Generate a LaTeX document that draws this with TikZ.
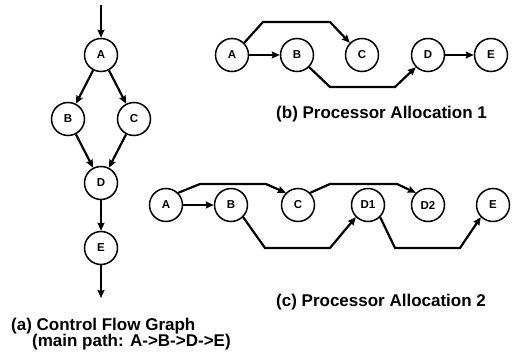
\documentclass[tikz,border=0pt]{standalone}
\usepackage{fontspec}
\setmainfont{Liberation Sans}
\usepackage{tikz}
\usetikzlibrary{arrows.meta}
\tikzset{
  task/.style={circle, draw, line width=1.5pt, minimum size=33pt, inner sep=0pt,
    font=\fontsize{11.5}{11.5}\selectfont\bfseries},
  flow/.style={line width=2.2pt, -{Stealth[length=8pt,width=7pt,inset=1pt]}},
  capt/.style={anchor=base west, inner sep=0pt, font=\fontsize{17}{15}\selectfont\bfseries},
  >=Stealth
}

\begin{document}
\begin{tikzpicture}[x=1pt, y=-1pt]
  \useasboundingbox (0,0) rectangle (514,355);
  % (a) control flow graph
  \coordinate (in) at (101,5);
  \node[task] (A) at (101,55) {A};
  \node[task] (B) at (68,119) {B};
  \node[task] (C) at (134,119) {C};
  \node[task] (D) at (101,183) {D};
  \node[task] (E) at (101,248) {E};
  \coordinate (out) at (101,298);
  \draw[flow] (in) -- (A);
  \draw[flow] (A) -- (B);
  \draw[flow] (A) -- (C);
  \draw[flow] (B) -- (D);
  \draw[flow] (C) -- (D);
  \draw[flow] (D) -- (E);
  \draw[flow] (E) -- (out);
  \node[capt, anchor=north west, align=left] (capA) at (11,317.5)
    {(a) Control Flow Graph\\\hspace*{21pt}(main path: A->B->D->E)};
  % (b) processor allocation 1
  \node[task] (bA) at (232,55) {A};
  \node[task] (bB) at (297,55) {B};
  \node[task] (bC) at (362,55) {C};
  \node[task] (bD) at (428,55) {D};
  \node[task] (bE) at (491,55) {E};
  \draw[flow] (bA) -- (bB);
  \draw[flow] (bA.45) -- (263,22) -- (330,22) -- (bC.135);
  \draw[flow] (bB.-45) -- (330,87) -- (395,87) -- (bD.-135);
  \draw[flow] (bD) -- (bE);
  \node[capt] (capB) at (276,119) {(b) Processor Allocation 1};
  % (c) processor allocation 2
  \node[task] (cA) at (166,205) {A};
  \node[task] (cB) at (231,205) {B};
  \node[task] (cC) at (298,205) {C};
  \node[task] (cD1) at (368,205) {D1};
  \node[task] (cD2) at (428,205) {D2};
  \node[task] (cE) at (493,205) {E};
  \draw[flow] (cA) -- (cB);
  \draw[flow] (cA.45) -- (200,184) -- (266,184) -- (cC.135);
  \draw[flow] (cC.45) -- (330,184) -- (397,184) -- (cD2.135);
  \draw[flow] (cB.-45) -- (265,248) -- (330,248) -- (cD1.-135);
  \draw[flow] (cD1.-45) -- (395,248) -- (460,248) -- (cE.-135);
  \node[capt] (capC) at (276,306) {(c) Processor Allocation 2};
\end{tikzpicture}
\end{document}
